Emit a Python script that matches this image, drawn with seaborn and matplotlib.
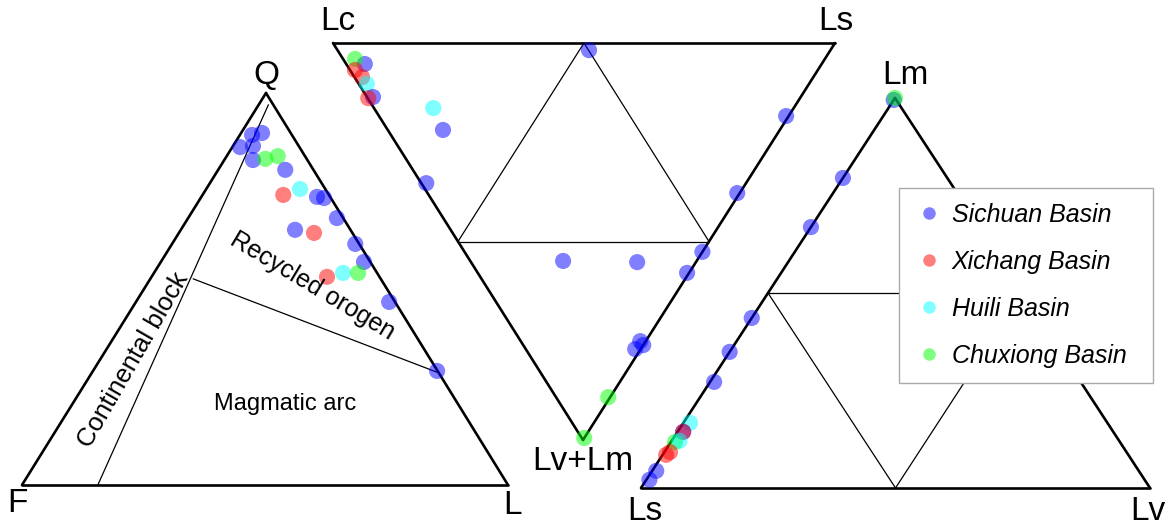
import numpy as np
import pandas as pd
import matplotlib
matplotlib.use("Agg")
import matplotlib.pyplot as plt
import seaborn as sns
from matplotlib.lines import Line2D

sns.set_theme(style="white")
plt.rcParams['font.family'] = ['Liberation Sans', 'DejaVu Sans']
plt.rcParams['text.color'] = 'black'

# ---- data (percentages) ----
basins = ['Sichuan Basin', 'Xichang Basin', 'Huili Basin', 'Chuxiong Basin']
cores = {'Sichuan Basin': 'blue', 'Xichang Basin': 'red',
         'Huili Basin': 'cyan', 'Chuxiong Basin': 'lime'}

# QFL diagram
qfl_basin = ['Sichuan Basin', 'Sichuan Basin', 'Sichuan Basin', 'Sichuan Basin', 'Sichuan Basin',
             'Chuxiong Basin', 'Chuxiong Basin', 'Sichuan Basin', 'Xichang Basin', 'Huili Basin',
             'Sichuan Basin', 'Sichuan Basin', 'Sichuan Basin', 'Sichuan Basin', 'Xichang Basin',
             'Sichuan Basin', 'Sichuan Basin', 'Xichang Basin', 'Huili Basin', 'Chuxiong Basin',
             'Sichuan Basin', 'Sichuan Basin']
qfl_Q = [86.2, 89.3, 89.8, 86.5, 82.9, 83.2, 83.9, 80.4, 74.0, 75.5, 73.5,
         73.2, 68.1, 65.1, 64.3, 61.5, 56.9, 53.1, 54.1, 54.1, 46.7, 29.1]
qfl_F = [12.2, 8.2, 5.9, 9.4, 11.2, 8.5, 5.6, 5.8, 9.4, 5.2, 2.7,
         1.4, 1.3, 11.4, 7.9, 0.8, 1.3, 10.8, 7.0, 3.9, 1.2, 0.1]
qfl_L = [1.6, 2.5, 4.3, 4.1, 5.9, 8.3, 10.5, 13.8, 16.6, 19.3, 23.8,
         25.4, 30.6, 23.5, 27.8, 37.7, 41.8, 36.1, 38.9, 42.0, 52.1, 70.8]

# Lc - Ls - (Lv+Lm) diagram
lc_basin = ['Sichuan Basin', 'Chuxiong Basin', 'Xichang Basin', 'Xichang Basin', 'Huili Basin',
            'Sichuan Basin', 'Xichang Basin', 'Huili Basin', 'Sichuan Basin', 'Sichuan Basin',
            'Sichuan Basin', 'Sichuan Basin', 'Sichuan Basin', 'Sichuan Basin', 'Sichuan Basin',
            'Sichuan Basin', 'Sichuan Basin', 'Sichuan Basin', 'Sichuan Basin', 'Sichuan Basin',
            'Chuxiong Basin', 'Chuxiong Basin']
lc_Lc = [91.0, 93.6, 92.2, 89.9, 88.1, 85.2, 86.0, 71.8, 67.1, 63.7, 48.1,
         0.5, 0.5, 0.0, 0.4, 26.6, 11.7, 1.1, 1.1, 0.0, 0.4, 0.0]
lc_Ls = [3.7, 2.4, 1.0, 1.5, 1.6, 1.2, 0.1, 11.8, 11.0, 1.0, 50.1,
         81.1, 61.7, 47.4, 41.7, 18.5, 33.1, 23.8, 21.8, 23.9, 10.4, 0.5]
lc_LvLm = [5.3, 4.0, 6.8, 8.6, 10.3, 13.6, 13.9, 16.4, 21.9, 35.3, 1.8,
           18.4, 37.8, 52.6, 57.9, 54.9, 55.2, 75.1, 77.1, 76.1, 89.2, 99.5]

# Lm - Lv - Ls diagram
lm_basin = ['Sichuan Basin', 'Chuxiong Basin', 'Sichuan Basin', 'Sichuan Basin', 'Sichuan Basin',
            'Sichuan Basin', 'Sichuan Basin', 'Huili Basin', 'Sichuan Basin', 'Xichang Basin',
            'Chuxiong Basin', 'Huili Basin', 'Xichang Basin', 'Xichang Basin', 'Sichuan Basin',
            'Sichuan Basin']
lm_Lm = [99.5, 100.0, 79.5, 66.9, 43.6, 34.9, 27.2, 16.7, 14.4, 14.4,
         11.8, 12.1, 9.2, 8.5, 4.4, 2.1]
lm_Lv = [0.0, 0.0, 0.0, 0.0, 0.0, 0.0, 0.8, 1.3, 1.1, 1.1,
         0.8, 1.5, 1.1, 0.7, 0.8, 0.6]
lm_Ls = [0.5, 0.0, 20.5, 33.1, 56.4, 65.1, 72.0, 82.0, 84.5, 84.5,
         87.4, 86.4, 89.7, 90.8, 94.8, 97.3]

# ---- triangle frames (figure pixels) ----
QFL_V = {'Q': (266, 93), 'F': (22, 485), 'L': (508, 485)}
LC_V = {'Lc': (333, 43), 'Ls': (835, 43), 'LvLm': (583, 440)}
LM_V = {'Lm': (895, 98), 'Lv': (1150, 488), 'Ls': (641, 488)}


def tern(verts, comps):
    """barycentric -> page coords"""
    tot = sum(np.asarray(c, float) for c in comps.values())
    x = sum(np.asarray(comps[k], float) / tot * verts[k][0] for k in comps)
    y = sum(np.asarray(comps[k], float) / tot * verts[k][1] for k in comps)
    return x, y


def pt(verts, **w):
    x, y = tern(verts, {k: [v] for k, v in w.items()})
    return x[0], y[0]


frames = []
for verts, b, comps in [
    (QFL_V, qfl_basin, {'Q': qfl_Q, 'F': qfl_F, 'L': qfl_L}),
    (LC_V, lc_basin, {'Lc': lc_Lc, 'Ls': lc_Ls, 'LvLm': lc_LvLm}),
    (LM_V, lm_basin, {'Lm': lm_Lm, 'Lv': lm_Lv, 'Ls': lm_Ls}),
]:
    x, y = tern(verts, comps)
    frames.append(pd.DataFrame({'x': x, 'y': y, 'basin': b}))
df = pd.concat(frames, ignore_index=True)

fig = plt.figure(figsize=(11.7, 5.27), dpi=100)
ax = fig.add_axes([0, 0, 1, 1])
ax.set_xlim(0, 1170)
ax.set_ylim(527, 0)
ax.axis('off')

lw_out, lw_in = 1.9, 0.9


def seg(a, b, lw):
    ax.plot([a[0], b[0]], [a[1], b[1]], color='black', lw=lw, solid_capstyle='round', zorder=1)


# QFL outline + fields
for a, b in [('Q', 'F'), ('F', 'L'), ('L', 'Q')]:
    seg(QFL_V[a], QFL_V[b], lw_out)
cb_top = pt(QFL_V, Q=97, F=1, L=2)
cb_bot = pt(QFL_V, Q=0, F=84.4, L=15.6)
seg(cb_top, cb_bot, lw_in)
ma_left = pt(QFL_V, Q=52.6, F=38.6, L=8.8)
ma_right = pt(QFL_V, Q=28.6, F=0, L=71.4)
seg(ma_left, ma_right, lw_in)

# Lc-Ls-(Lv+Lm) outline + inner triangle
for a, b in [('Lc', 'Ls'), ('Ls', 'LvLm'), ('LvLm', 'Lc')]:
    seg(LC_V[a], LC_V[b], lw_out)
m1 = pt(LC_V, Lc=50, Ls=50, LvLm=0)
m2 = pt(LC_V, Lc=50, Ls=0, LvLm=50)
m3 = pt(LC_V, Lc=0, Ls=50, LvLm=50)
seg(m1, m2, lw_in); seg(m2, m3, lw_in); seg(m3, m1, lw_in)

# Lm-Lv-Ls outline + inner triangle
for a, b in [('Lm', 'Lv'), ('Lv', 'Ls'), ('Ls', 'Lm')]:
    seg(LM_V[a], LM_V[b], lw_out)
n1 = pt(LM_V, Lm=50, Lv=0, Ls=50)
n2 = pt(LM_V, Lm=50, Lv=50, Ls=0)
n3 = pt(LM_V, Lm=0, Lv=50, Ls=50)
seg(n1, n2, lw_in); seg(n2, n3, lw_in); seg(n3, n1, lw_in)

# points
sns.scatterplot(data=df, x='x', y='y', hue='basin', hue_order=basins, palette=cores,
                s=135, alpha=0.5, linewidth=0, legend=False, ax=ax, zorder=3)

# vertex labels
fs_v = 24
for txt, (x, y) in [('Q', (266, 76)), ('F', (17, 504)), ('L', (512, 506)),
                    ('Lc', (338, 22)), ('Ls', (836, 22)), ('Lv+Lm', (583, 462)),
                    ('Lm', (905, 76)), ('Ls', (645, 511)), ('Lv', (1148, 511))]:
    ax.text(x, y, txt, fontsize=fs_v, ha='center', va='center', color='black')

# field labels
ax.text(133, 360, 'Continental block', fontsize=18.5, rotation=60, ha='center', va='center', color='black')
ax.text(312, 286, 'Recycled orogen', fontsize=18, rotation=-31, ha='center', va='center', color='black')
ax.text(285, 404, 'Magmatic arc', fontsize=17, ha='center', va='center', color='black')

# legend
handles = [Line2D([], [], marker='o', linestyle='', markersize=9, markerfacecolor=cores[b],
                  markeredgewidth=0, alpha=0.5) for b in basins]
leg = ax.legend(handles, basins, loc='center', bbox_to_anchor=(899 / 1170, 1 - 384 / 527, 254 / 1170, 197 / 527),
                mode='expand', borderaxespad=0, frameon=True, fancybox=False, framealpha=1,
                edgecolor='#aaaaaa', labelcolor='black',
                prop={'style': 'italic', 'size': 18, 'family': 'Liberation Sans'},
                labelspacing=0.92, handletextpad=0.3, handlelength=1.2, borderpad=0.6)
leg.get_frame().set_linewidth(1.0)
leg.set_zorder(5)

fig.savefig('out.png', dpi=100)
